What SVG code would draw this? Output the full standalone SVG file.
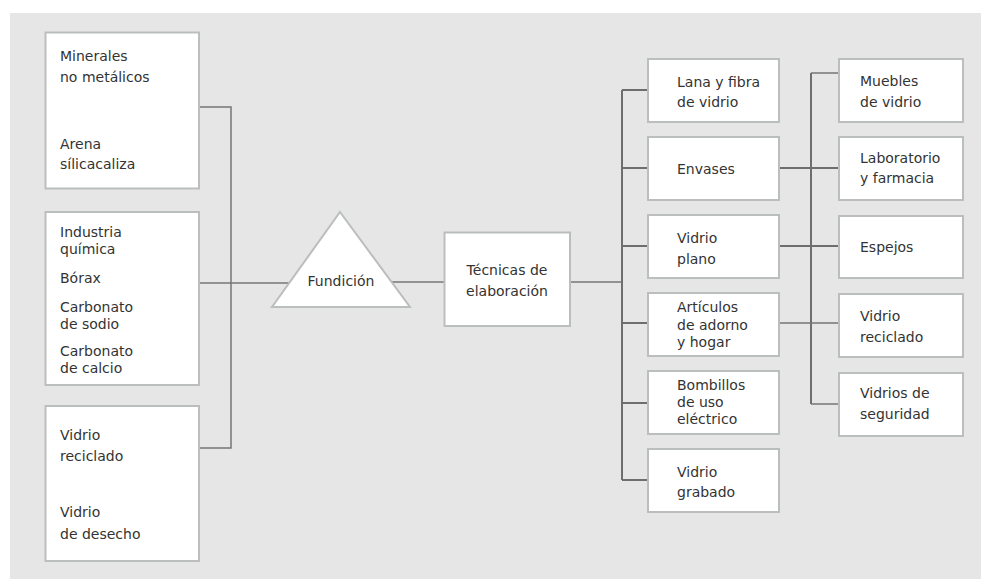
<svg xmlns="http://www.w3.org/2000/svg" width="981" height="579" viewBox="0 0 981 579">
<style>
.box{fill:#ffffff;stroke:#babebf;stroke-width:2}
.ln{fill:none;stroke:#767676;stroke-width:1.5}
.br{fill:none;stroke:#6e6e6e;stroke-width:2}
text{font-family:"DejaVu Sans","Open Sans","Liberation Sans",sans-serif;font-size:14px;fill:#333333}
.c{text-anchor:middle}
</style>
<rect x="0" y="0" width="981" height="579" fill="#ffffff"/>
<rect x="10" y="13" width="971" height="566" fill="#e6e6e6"/>
<g id="connectors">
<path class="ln" d="M199,107 H231 V448 H199"/>
<path class="ln" d="M199,283 H290"/>
<path class="ln" d="M392,282 H444"/>
<path class="ln" d="M570,282 H622"/>
<path class="br" d="M622,90 V480"/>
<path class="br" d="M622,90 H648 M622,168 H648 M622,246 H648 M622,323 H648 M622,403 H648 M622,480 H648"/>
<path class="br" d="M811,73 V404"/>
<path class="br" d="M779,168 H839 M779,246 H839"/>
<path class="ln" d="M779,323 H839 M811,73 H839 M811,404 H839"/>
</g>
<g id="n-minerales">
<rect class="box" x="45.5" y="32.5" width="153.5" height="156"/>
<text x="60" y="61">Minerales</text>
<text x="60" y="82">no metálicos</text>
<text x="60" y="149">Arena</text>
<text x="60" y="169">sílicacaliza</text>
</g>
<g id="n-industria">
<rect class="box" x="45.5" y="212" width="153.5" height="173"/>
<text x="60" y="237">Industria</text>
<text x="60" y="254">química</text>
<text x="60" y="283">Bórax</text>
<text x="60" y="312">Carbonato</text>
<text x="60" y="329">de sodio</text>
<text x="60" y="356">Carbonato</text>
<text x="60" y="373">de calcio</text>
</g>
<g id="n-vidrio">
<rect class="box" x="45.5" y="406" width="153.5" height="155"/>
<text x="60" y="440">Vidrio</text>
<text x="60" y="461">reciclado</text>
<text x="60" y="517">Vidrio</text>
<text x="60" y="539">de desecho</text>
</g>
<g id="n-fundicion">
<polygon points="340,212 410,307 272,307" fill="#ffffff" stroke="#babebf" stroke-width="2" stroke-linejoin="miter"/>
<text class="c" x="341" y="286">Fundición</text>
</g>
<g id="n-tecnicas">
<rect class="box" x="444.5" y="232.5" width="125.5" height="93.5"/>
<text class="c" x="507" y="275">Técnicas de</text>
<text class="c" x="507" y="296">elaboración</text>
</g>
<g id="n-lana">
<rect class="box" x="648" y="59" width="131" height="63"/>
<text x="677" y="87">Lana y fibra</text>
<text x="677" y="107">de vidrio</text>
</g>
<g id="n-envases">
<rect class="box" x="648" y="137" width="131" height="63"/>
<text x="677" y="174">Envases</text>
</g>
<g id="n-plano">
<rect class="box" x="648" y="215" width="131" height="63"/>
<text x="677" y="243">Vidrio</text>
<text x="677" y="264">plano</text>
</g>
<g id="n-articulos">
<rect class="box" x="648" y="293" width="131" height="63"/>
<text x="677" y="312">Artículos</text>
<text x="677" y="330">de adorno</text>
<text x="677" y="347">y hogar</text>
</g>
<g id="n-bombillos">
<rect class="box" x="648" y="371" width="131" height="63"/>
<text x="677" y="390">Bombillos</text>
<text x="677" y="407">de uso</text>
<text x="677" y="424">eléctrico</text>
</g>
<g id="n-grabado">
<rect class="box" x="648" y="449" width="131" height="63"/>
<text x="677" y="477">Vidrio</text>
<text x="677" y="497">grabado</text>
</g>
<g id="n-muebles">
<rect class="box" x="839" y="59" width="124" height="63"/>
<text x="860" y="86">Muebles</text>
<text x="860" y="107">de vidrio</text>
</g>
<g id="n-laboratorio">
<rect class="box" x="839" y="137" width="124" height="63"/>
<text x="860" y="163">Laboratorio</text>
<text x="860" y="183">y farmacia</text>
</g>
<g id="n-espejos">
<rect class="box" x="839" y="216" width="124" height="62"/>
<text x="860" y="252">Espejos</text>
</g>
<g id="n-reciclado">
<rect class="box" x="839" y="294" width="124" height="63"/>
<text x="860" y="321">Vidrio</text>
<text x="860" y="342">reciclado</text>
</g>
<g id="n-seguridad">
<rect class="box" x="839" y="373" width="124" height="63"/>
<text x="860" y="398">Vidrios de</text>
<text x="860" y="419">seguridad</text>
</g>
</svg>
